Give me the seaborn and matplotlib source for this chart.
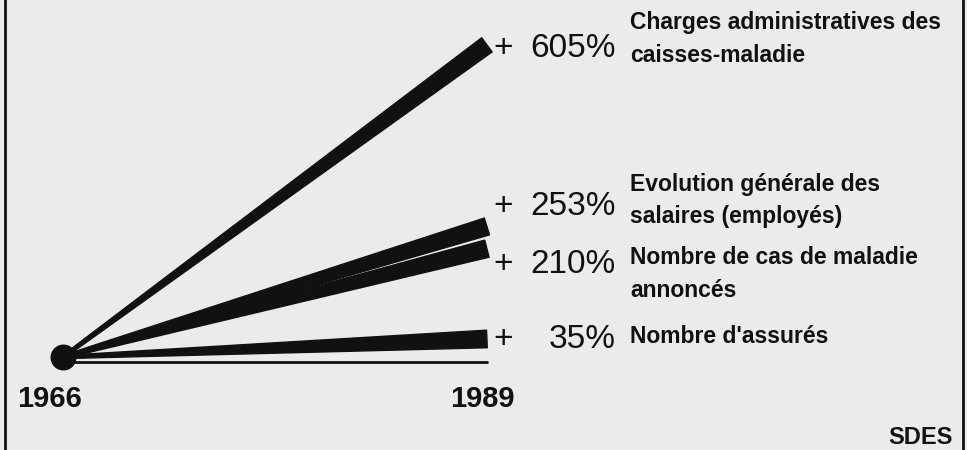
import numpy as np
import matplotlib.pyplot as plt
import matplotlib.transforms as mtransforms
import seaborn as sns
from matplotlib.lines import Line2D

# Evolution 1966 -> 1989 (source SDES)
years = [1966, 1989]
year_labels = ['1966', '1989']
growth = [605, 253, 210, 35]
pct_labels = ['605%', '253%', '210%', '35%']
series = ['Charges administratives des\ncaisses-maladie',
          'Evolution générale des\nsalaires (employés)',
          'Nombre de cas de maladie\nannoncés',
          "Nombre d'assurés"]
base = [0, 0]
source = 'SDES'

# décalages verticaux des étiquettes (pixels, ligne de base de la dernière ligne)
pct_dy = [-12, 11, -24, -9]
desc_dy = [-17, 3, -48, -4]
year_dx = [-14, -5]

sns.set_theme(style='white')
plt.rcParams['font.family'] = ['Liberation Sans', 'DejaVu Sans']

paper = '#ebebeb'
ink = '#111111'

fig = plt.figure(figsize=(9.67, 4.5), dpi=100, facecolor=paper)
ax = fig.add_axes([0, 0, 1, 1])
ax.set_facecolor(paper)
ax.set_xlim(1962.58, 2015.05)
ax.set_ylim(-180.2, 691.9)
ax.axis('off')


def wedge(v, hw0=1.6, hw1=8.8):
    # triangle effilé du point 1966 jusqu'à la valeur 1989
    p0 = ax.transData.transform((years[0], 0))
    p1 = ax.transData.transform((years[1], v))
    d = (p1 - p0) / np.hypot(*(p1 - p0))
    n = np.array([-d[1], d[0]])
    pts = np.array([p0 - n * hw0, p1 - n * hw1, p1 + n * hw1, p0 + n * hw0])
    return ax.transData.inverted().transform(pts)


# ligne de base (légèrement sous le point de départ)
sns.lineplot(x=years, y=base, color=ink, lw=2.0, ax=ax)
ax.lines[-1].set_transform(mtransforms.offset_copy(ax.transData, fig, y=-5, units='dots'))

for v in growth:
    pts = wedge(v)
    ax.fill(pts[:, 0], pts[:, 1], color=ink, lw=1, joinstyle='round', zorder=3)

sns.scatterplot(x=[years[0]], y=[base[0]], s=300, color=ink, edgecolor=ink,
                zorder=4, ax=ax)

for v, lab, desc, dy1, dy2 in zip(growth, pct_labels, series, pct_dy, desc_dy):
    ax.annotate('+', xy=(years[1], v), xytext=(6, dy1), textcoords='offset pixels',
                ha='left', va='baseline', fontsize=24, color=ink)
    ax.annotate(lab, xy=(years[1], v), xytext=(129, dy1), textcoords='offset pixels',
                ha='right', va='baseline', fontsize=24, color=ink)
    ax.annotate(desc, xy=(years[1], v), xytext=(143, dy2), textcoords='offset pixels',
                ha='left', va='baseline', fontsize=16.5, fontweight='bold',
                linespacing=1.55, color=ink)

for yr, lab, dx in zip(years, year_labels, year_dx):
    ax.annotate(lab, xy=(yr, 0), xytext=(dx, -50), textcoords='offset pixels',
                ha='center', va='baseline', fontsize=21, fontweight='bold', color=ink)

# cadre gauche / droit
for xf in (5 / 967, 963 / 967):
    fig.add_artist(Line2D([xf, xf], [0, 1], transform=fig.transFigure, color=ink, lw=2))

fig.text(953 / 967, 6 / 450, source, ha='right', va='baseline', fontsize=17,
         fontweight='bold', color=ink)

fig.savefig('out.png', dpi=100, facecolor=paper)
